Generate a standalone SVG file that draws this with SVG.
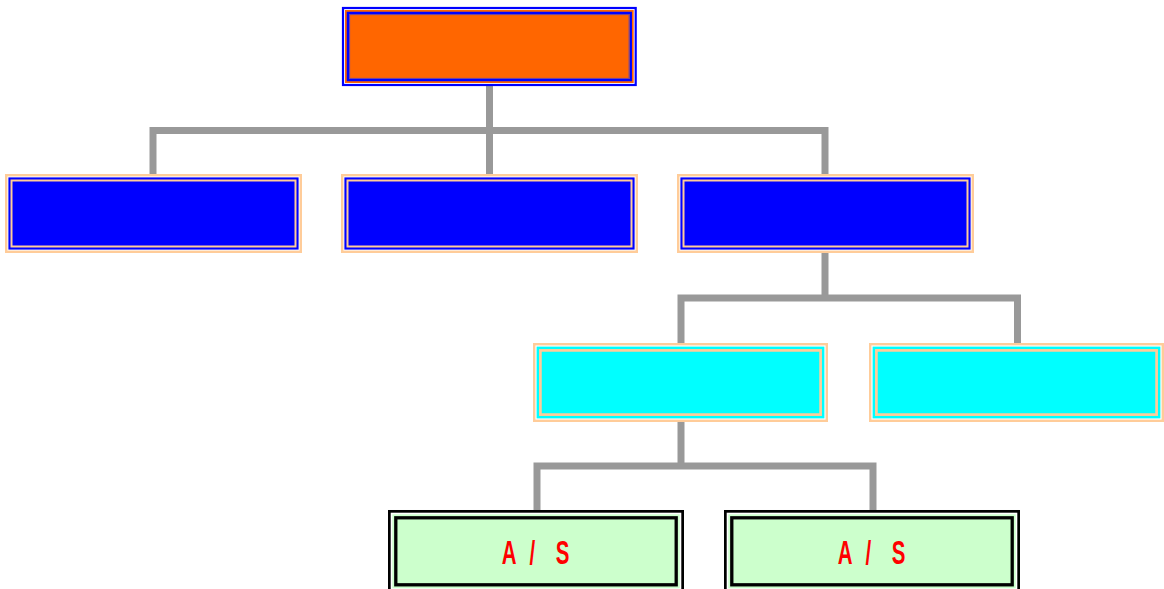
<svg xmlns="http://www.w3.org/2000/svg" width="1164" height="589" viewBox="0 0 1164 589">
<style>
.conn{fill:none;stroke:#999999;stroke-width:7;stroke-linejoin:miter;stroke-linecap:butt}
.pe{fill:#FFFFFF;stroke:#FFCC99;stroke-width:2.4}
.pi{fill:none;stroke:#FFCC99}
.lbl{font-family:"Liberation Sans",Arial,sans-serif;font-size:33px;font-weight:bold;fill:#FF0000}
</style>
<rect width="1164" height="589" fill="#FFFFFF"/>
<g id="connectors">
<path class="conn" d="M489.5,86 V174"/>
<path class="conn" d="M153,174 V130.5 H825 V174"/>
<path class="conn" d="M825,253 V298"/>
<path class="conn" d="M681,343 V298 H1017.5 V343"/>
<path class="conn" d="M681,422 V466"/>
<path class="conn" d="M537,511 V466 H873 V511"/>
</g>
<g id="root" transform="translate(342,7)">
<rect x="1" y="1" width="292.7" height="77" fill="#FFFFFF" stroke="#0000FF" stroke-width="2.2"/>
<rect x="3" y="3" width="288.7" height="73" fill="#FF6600"/>
<rect x="5.9" y="5.9" width="282.9" height="67.2" fill="none" stroke="#0000FF" stroke-width="2.3"/>
<rect x="7.6" y="7.6" width="279.5" height="63.8" fill="none" stroke="#6644AA" stroke-width="1"/>
</g>
<g id="b1" transform="translate(5,174)">
<rect class="pe" x="1.2" y="1.2" width="294.6" height="76.6"/>
<rect x="3.4" y="3.4" width="290.2" height="72.2" fill="#0000FF"/>
<rect class="pi" x="6.5" y="6.5" width="284" height="66" stroke-width="2"/>
</g>
<g id="b2" transform="translate(341,174)">
<rect class="pe" x="1.2" y="1.2" width="294.6" height="76.6"/>
<rect x="3.4" y="3.4" width="290.2" height="72.2" fill="#0000FF"/>
<rect class="pi" x="6.5" y="6.5" width="284" height="66" stroke-width="2"/>
</g>
<g id="b3" transform="translate(677,174)">
<rect class="pe" x="1.2" y="1.2" width="294.6" height="76.6"/>
<rect x="3.4" y="3.4" width="290.2" height="72.2" fill="#0000FF"/>
<rect class="pi" x="6.5" y="6.5" width="284" height="66" stroke-width="2"/>
</g>
<g id="c1" transform="translate(533,343)">
<rect class="pe" x="1.2" y="1.2" width="292.6" height="76.6"/>
<rect x="3.6" y="3.6" width="287.8" height="71.8" fill="#00FFFF"/>
<rect class="pi" x="7.4" y="7.4" width="280.2" height="64.2" stroke-width="2.7"/>
</g>
<g id="c2" transform="translate(869,343)">
<rect class="pe" x="1.2" y="1.2" width="292.6" height="76.6"/>
<rect x="3.6" y="3.6" width="287.8" height="71.8" fill="#00FFFF"/>
<rect class="pi" x="7.4" y="7.4" width="280.2" height="64.2" stroke-width="2.7"/>
</g>
<g id="g1" transform="translate(388,510)">
<rect x="1.35" y="1.35" width="293.3" height="80" fill="#FFFFFF" stroke="#000000" stroke-width="2.7"/>
<rect x="4.3" y="4.3" width="287.4" height="74" fill="#CCFFCC"/>
<rect x="7.8" y="7.8" width="280.4" height="67" fill="none" stroke="#000000" stroke-width="3.3"/>
<text class="lbl" transform="translate(113.7,54) scale(0.62,1)" letter-spacing="5" dx="0 0 3 0 14">A / S</text>
</g>
<g id="g2" transform="translate(724,510)">
<rect x="1.35" y="1.35" width="293.3" height="80" fill="#FFFFFF" stroke="#000000" stroke-width="2.7"/>
<rect x="4.3" y="4.3" width="287.4" height="74" fill="#CCFFCC"/>
<rect x="7.8" y="7.8" width="280.4" height="67" fill="none" stroke="#000000" stroke-width="3.3"/>
<text class="lbl" transform="translate(113.7,54) scale(0.62,1)" letter-spacing="5" dx="0 0 3 0 14">A / S</text>
</g>
</svg>
